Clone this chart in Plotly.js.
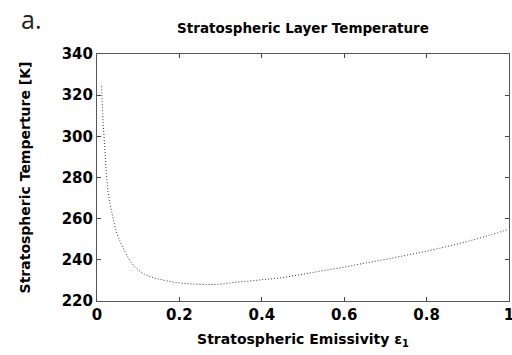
<!DOCTYPE html>
<html>
<head>
<meta charset="utf-8">
<script src="https://cdn.plot.ly/plotly-3.0.1.min.js"></script>
<style>html,body{margin:0;padding:0;background:#fff}#chart{width:512px;height:355px}</style>
</head>
<body>
<div id="chart"></div>
<script>
const emissivity = [0.011, 0.014, 0.017, 0.02, 0.0235, 0.027, 0.0316, 0.036, 0.040, 0.048, 0.056, 0.064, 0.076, 0.088, 0.10, 0.112, 0.13, 0.145, 0.17, 0.20, 0.23, 0.266, 0.30, 0.331, 0.37, 0.404, 0.444, 0.50, 0.55, 0.606, 0.65, 0.70, 0.75, 0.80, 0.85, 0.90, 0.95, 0.998];
const temperature = [324.4, 310, 300, 290.5, 280, 273, 267.5, 263, 259.3, 253, 249, 245.6, 241, 237.4, 235.2, 233.4, 231.8, 230.9, 229.8, 228.8, 228.3, 228.0, 228.2, 229.0, 229.7, 230.4, 231.2, 233.0, 234.8, 236.7, 238.4, 240.2, 242.2, 244.2, 246.5, 249.0, 251.8, 254.8];
const xTicks = [0, 0.2, 0.4, 0.6, 0.8, 1];
const xTickText = ['0', '0.2', '0.4', '0.6', '0.8', '1'];
const yTicks = [220, 240, 260, 280, 300, 320, 340];

const FAM = 'DejaVu Sans, Liberation Sans, Arial, sans-serif';
const boldFont = {family: FAM, size: 15, color: '#000', weight: 'bold'};

Plotly.newPlot('chart', [{
  x: emissivity,
  y: temperature,
  type: 'scatter',
  mode: 'lines',
  line: {color: '#333', width: 1, dash: '1px,2px', shape: 'spline'},
  hoverinfo: 'skip'
}], {
  width: 512, height: 355,
  margin: {l: 97, r: 3, t: 54, b: 54},
  paper_bgcolor: '#fff', plot_bgcolor: '#fff',
  showlegend: false,
  title: {text: 'Stratospheric Layer Temperature', font: {family: FAM, size: 13.5, color: '#000', weight: 'bold'}, xref: 'paper', x: 0.5, xanchor: 'center', y: 0.921, yanchor: 'middle'},
  xaxis: {
    range: [0, 1], tickvals: xTicks, ticktext: xTickText,
    ticks: 'inside', ticklen: 4, tickcolor: '#444', mirror: 'ticks',
    showline: true, linecolor: '#555', linewidth: 1, showgrid: false, zeroline: false,
    tickfont: boldFont, ticklabeloverflow: 'allow',
    title: {text: 'Stratospheric Emissivity ε<sub>1</sub>', font: {family: FAM, size: 14, color: '#000', weight: 'bold'}, standoff: 11}
  },
  yaxis: {
    range: [220, 340], tickvals: yTicks,
    ticks: 'inside', ticklen: 4, tickcolor: '#444', mirror: 'ticks',
    showline: true, linecolor: '#555', linewidth: 1, showgrid: false, zeroline: false,
    tickfont: boldFont, ticklabeloverflow: 'allow',
    title: {text: 'Stratospheric Temperture [K]', font: {family: FAM, size: 14, color: '#000', weight: 'bold'}, standoff: 27}
  },
  annotations: [{
    text: 'a.', xref: 'paper', yref: 'paper', x: -0.16, y: 1.14, xanchor: 'center', yanchor: 'middle',
    showarrow: false, font: {family: 'Open Sans, Noto Sans, sans-serif', size: 25, color: '#222'}
  }]
}, {displayModeBar: false, staticPlot: true});
</script>
</body>
</html>
